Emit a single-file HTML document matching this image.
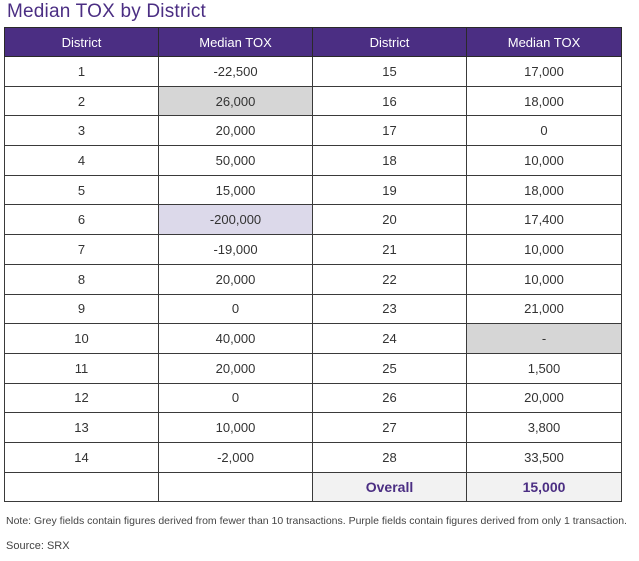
<!DOCTYPE html>
<html><head><meta charset="utf-8"><style>
body{margin:0;width:639px;height:561px;background:#fff;font-family:"Liberation Sans",sans-serif;position:relative;overflow:hidden}
#title{position:absolute;left:7px;top:1px;font-size:19px;color:#4b2e83;letter-spacing:0.2px}
table{position:absolute;left:4px;top:27px;border-collapse:collapse;table-layout:fixed;width:617px}
td,th{border:1px solid #3a3a3a;text-align:center;font-size:13px;color:#333;padding:0;font-weight:normal}
th{background:#4b2e83;color:#fff;height:28px;border-color:#2a2a2a}
td{height:28.7px}
.g{background:#d6d6d6}.p{background:#dcd9ea}.o{background:#f2f2f2;color:#4b2e83;font-weight:bold;font-size:14px}
#note{position:absolute;left:6px;top:515px;font-size:10.5px;color:#444}
#src{position:absolute;left:6px;top:540px;font-size:11px;color:#444}
</style></head><body>
<div id="title">Median TOX by District</div>
<table>
<colgroup><col style="width:154px"><col style="width:154px"><col style="width:154px"><col style="width:155px"></colgroup>
<thead><tr><th>District</th><th>Median TOX</th><th>District</th><th>Median TOX</th></tr></thead>
<tbody id="tb"></tbody></table>
<div id="note">Note: Grey fields contain figures derived from fewer than 10 transactions. Purple fields contain figures derived from only 1 transaction.</div>
<div id="src">Source: SRX</div>
<script>
const leftDistricts=["1","2","3","4","5","6","7","8","9","10","11","12","13","14"];
const leftValues=["-22,500","26,000","20,000","50,000","15,000","-200,000","-19,000","20,000","0","40,000","20,000","0","10,000","-2,000"];
const leftFlags=["","g","","","","p","","","","","","","",""];
const rightDistricts=["15","16","17","18","19","20","21","22","23","24","25","26","27","28"];
const rightValues=["17,000","18,000","0","10,000","18,000","17,400","10,000","10,000","21,000","-","1,500","20,000","3,800","33,500"];
const rightFlags=["","","","","","","","","","g","","","",""];
const tb=document.getElementById('tb');
for(let i=0;i<leftDistricts.length;i++){
  const tr=document.createElement('tr');
  
  
  [[leftDistricts[i],''],[leftValues[i],leftFlags[i]],[rightDistricts[i],''],[rightValues[i],rightFlags[i]]].forEach(([t,c])=>{
    const td=document.createElement('td');td.textContent=t;if(c)td.className=c;
    
    
    tr.appendChild(td);
  });
  tb.appendChild(tr);
}
const tr=document.createElement('tr');


tr.innerHTML='<td></td><td></td><td class="o">Overall</td><td class="o">15,000</td>';
tb.appendChild(tr);
</script>
</body></html>
